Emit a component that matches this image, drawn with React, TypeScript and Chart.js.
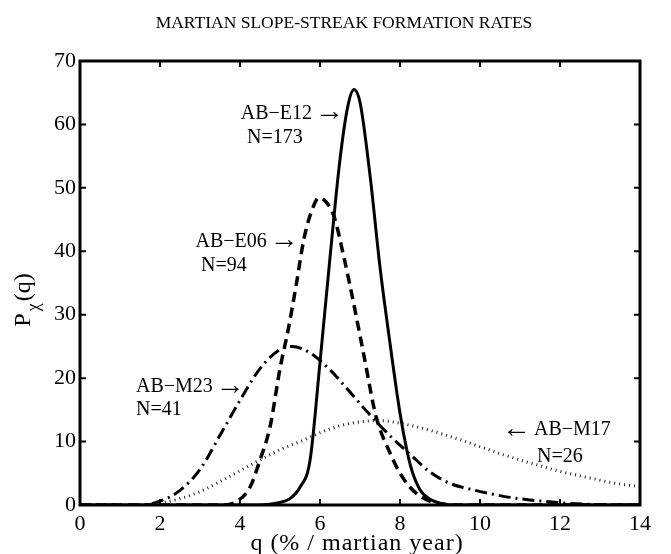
import React, { useEffect, useRef } from "react";
import { Chart, registerables } from "chart.js";

Chart.register(...registerables);

const TITLE = "MARTIAN SLOPE-STREAK FORMATION RATES";
const X_LABEL = "q (% / martian year)";
const X_TICKS = [0, 2, 4, 6, 8, 10, 12, 14];
const Y_TICKS = [0, 10, 20, 30, 40, 50, 60, 70];

// AB-E12 (solid)
const E12_Q = [0, 4.5, 5.0, 5.25, 5.5, 5.75, 6.0, 6.25, 6.5, 6.7, 6.85, 7.0, 7.25, 7.5, 7.75, 8.0, 8.25, 8.5, 8.75, 9.0, 9.4, 14];
const E12_P = [0, 0, 0.4, 1.0, 2.8, 7.0, 22.5, 39, 54.5, 63, 65.5, 63.5, 52, 37.5, 25.5, 14.5, 6.5, 2.4, 0.9, 0.3, 0, 0];

// AB-E06 (dashed)
const E06_Q = [0, 3.5, 3.9, 4.25, 4.5, 4.75, 5.0, 5.2, 5.4, 5.6, 5.8, 5.97, 6.15, 6.35, 6.6, 6.85, 7.1, 7.4, 7.75, 8.0, 8.25, 8.5, 8.75, 9.0, 9.5, 14];
const E06_P = [0, 0, 0.5, 2.8, 7.1, 12.3, 21.5, 27.5, 34.5, 42, 46.5, 48.4, 47.8, 45.5, 39, 31.5, 23.5, 14, 8.2, 5, 2.8, 1.4, 0.6, 0.2, 0, 0];

// AB-M23 (dash-dot)
const M23_Q = [0, 1.5, 2, 2.5, 3, 3.5, 4, 4.5, 5, 5.3, 5.75, 6.25, 6.75, 7.25, 7.75, 8.25, 8.75, 9.25, 9.75, 10.25, 10.75, 11.25, 11.75, 12.25, 13, 14];
const M23_P = [0, 0, 0.6, 2.3, 5.6, 11, 16.5, 21.5, 24.5, 25, 24, 21.3, 17.8, 14.2, 10.9, 8, 5.2, 3.4, 2.5, 1.8, 1.2, 0.8, 0.5, 0.25, 0.05, 0];

// AB-M17 (dotted)
const M17_Q = [0, 1.5, 2.0, 2.5, 3, 3.5, 4, 4.5, 5, 5.5, 6, 6.5, 7, 7.5, 8, 8.5, 9, 9.5, 10, 10.5, 11, 11.5, 12, 12.5, 13, 13.5, 14];
const M17_P = [0, 0, 0.3, 1.0, 2.1, 3.7, 5.4, 7.1, 8.7, 10.0, 11.4, 12.5, 13.1, 13.3, 12.9, 12.2, 11.3, 10.3, 9.2, 8.1, 7.1, 6.2, 5.3, 4.6, 3.9, 3.3, 2.9];

// Annotation texts, anchored in data coordinates
const ANNOTATIONS = [
  { text: "AB\u2212E12", arrow: "right", q: 6.6, p: 61.7, align: "right" },
  { text: "N=173", arrow: "", q: 4.175, p: 57.9, align: "left" },
  { text: "AB\u2212E06", arrow: "right", q: 5.47, p: 41.5, align: "right" },
  { text: "N=94", arrow: "", q: 3.025, p: 37.7, align: "left" },
  { text: "AB\u2212M23", arrow: "right", q: 1.4, p: 18.6, align: "left" },
  { text: "N=41", arrow: "", q: 1.4, p: 15.0, align: "left" },
  { text: "AB\u2212M17", arrow: "left", q: 10.55, p: 11.8, align: "left" },
  { text: "N=26", arrow: "", q: 11.425, p: 7.6, align: "left" },
];

const SERIF = '"Liberation Serif", "Times New Roman", serif';

const pts = (qs: number[], ps: number[]) => qs.map((q, i) => ({ x: q, y: ps[i] }));

function drawAnnotation(ctx: CanvasRenderingContext2D, l: any, x: number, y: number) {
  const textFont = `20px ${SERIF}`;
  const arrowFont = `29px ${SERIF}`;
  const gap = 3;
  ctx.font = textFont;
  const wt = ctx.measureText(l.text).width;
  let wa = 0;
  const glyph = l.arrow === "right" ? "\u2192" : l.arrow === "left" ? "\u2190" : "";
  if (glyph) {
    ctx.font = arrowFont;
    wa = ctx.measureText(glyph).width;
  }
  const total = wt + (glyph ? gap + wa : 0);
  let x0 = l.align === "right" ? x - total : x;
  ctx.textAlign = "left";
  if (l.arrow === "left") {
    ctx.font = arrowFont;
    ctx.fillText(glyph, x0, y - 1);
    x0 += wa + gap;
    ctx.font = textFont;
    ctx.fillText(l.text, x0, y);
  } else {
    ctx.font = textFont;
    ctx.fillText(l.text, x0, y);
    if (glyph) {
      x0 += wt + gap;
      ctx.font = arrowFont;
      ctx.fillText(glyph, x0, y - 1);
    }
  }
}

const framePlugin = {
  id: "frameAndText",
  afterDraw(chart: any) {
    const { ctx, chartArea: a, scales } = chart;
    const xs = scales.x;
    const ys = scales.y;
    ctx.save();
    ctx.strokeStyle = "#000";
    ctx.lineCap = "butt";
    const T = 6;
    ctx.lineWidth = 2;
    ctx.beginPath();
    for (const v of X_TICKS) {
      const px = xs.getPixelForValue(v);
      ctx.moveTo(px, a.bottom);
      ctx.lineTo(px, a.bottom - T);
      ctx.moveTo(px, a.top);
      ctx.lineTo(px, a.top + T);
    }
    for (const v of Y_TICKS) {
      const py = ys.getPixelForValue(v);
      ctx.moveTo(a.left, py);
      ctx.lineTo(a.left + T, py);
      ctx.moveTo(a.right, py);
      ctx.lineTo(a.right - T, py);
    }
    ctx.stroke();
    ctx.lineWidth = 3;
    ctx.strokeRect(a.left, a.top, a.right - a.left, a.bottom - a.top);

    ctx.fillStyle = "#000";
    ctx.textBaseline = "middle";
    for (const l of ANNOTATIONS) {
      drawAnnotation(ctx, l, xs.getPixelForValue(l.q), ys.getPixelForValue(l.p));
    }

    // title
    ctx.textAlign = "center";
    ctx.font = `17.5px ${SERIF}`;
    ctx.fillText(TITLE, (a.left + a.right) / 2 - 16, 23);

    // x label
    ctx.font = `24px ${SERIF}`;
    (ctx as any).letterSpacing = "1px";
    ctx.fillText(X_LABEL, (a.left + a.right) / 2 - 3, 544);
    (ctx as any).letterSpacing = "0px";

    // y label P_chi(q)
    ctx.save();
    ctx.translate(24, (a.top + a.bottom) / 2 + 17);
    ctx.rotate(-Math.PI / 2);
    ctx.textAlign = "left";
    ctx.font = `24px ${SERIF}`;
    const wP = ctx.measureText("P").width;
    ctx.font = `18px ${SERIF}`;
    const wC = ctx.measureText("\u03c7").width;
    ctx.font = `24px ${SERIF}`;
    const wQ = ctx.measureText("(q)").width;
    const total = wP + wC + wQ + 4;
    let x0 = -total / 2;
    ctx.fillText("P", x0, 0);
    x0 += wP + 2;
    ctx.font = `18px ${SERIF}`;
    ctx.fillText("\u03c7", x0, 10);
    x0 += wC + 2;
    ctx.font = `24px ${SERIF}`;
    ctx.fillText("(q)", x0, 0);
    ctx.restore();

    ctx.restore();
  },
};

export default function App() {
  const ref = useRef<HTMLCanvasElement | null>(null);
  useEffect(() => {
    document.body.style.margin = "0";
    const canvas = ref.current;
    if (!canvas) return;
    const chart = new Chart(canvas, {
      type: "line",
      data: {
        datasets: [
          {
            label: "AB-M17",
            data: pts(M17_Q, M17_P),
            borderColor: "#222",
            borderWidth: 3,
            borderDash: [1, 4],
            borderCapStyle: "butt",
            pointRadius: 0,
            cubicInterpolationMode: "monotone",
            tension: 0.4,
          },
          {
            label: "AB-M23",
            data: pts(M23_Q, M23_P),
            borderColor: "#000",
            borderWidth: 3,
            borderDash: [12, 5, 2, 5],
            borderCapStyle: "butt",
            pointRadius: 0,
            cubicInterpolationMode: "monotone",
            tension: 0.4,
          },
          {
            label: "AB-E06",
            data: pts(E06_Q, E06_P),
            borderColor: "#000",
            borderWidth: 3.5,
            borderDash: [10, 6],
            borderCapStyle: "butt",
            pointRadius: 0,
            cubicInterpolationMode: "monotone",
            tension: 0.4,
          },
          {
            label: "AB-E12",
            data: pts(E12_Q, E12_P),
            borderColor: "#000",
            borderWidth: 3,
            pointRadius: 0,
            cubicInterpolationMode: "monotone",
            tension: 0.4,
          },
        ],
      },
      options: {
        animation: false,
        responsive: true,
        maintainAspectRatio: false,
        layout: { padding: { top: 61, right: 31, left: 0, bottom: 0 } },
        plugins: {
          legend: { display: false },
          tooltip: { enabled: false },
          title: { display: false },
        },
        scales: {
          x: {
            type: "linear",
            min: 0,
            max: 14,
            afterFit: (s: any) => {
              s.height = 49;
            },
            afterBuildTicks: (s: any) => {
              s.ticks = X_TICKS.map((v) => ({ value: v }));
            },
            grid: { display: false, drawTicks: false },
            border: { display: false },
            ticks: {
              color: "#000",
              font: { family: SERIF, size: 22 },
              padding: 6,
              maxRotation: 0,
            },
          },
          y: {
            type: "linear",
            min: 0,
            max: 70,
            afterFit: (s: any) => {
              s.width = 80;
            },
            afterBuildTicks: (s: any) => {
              s.ticks = Y_TICKS.map((v) => ({ value: v }));
            },
            grid: { display: false, drawTicks: false },
            border: { display: false },
            ticks: {
              color: "#000",
              font: { family: SERIF, size: 22 },
              padding: 4,
            },
          },
        },
      },
      plugins: [framePlugin],
    });
    return () => chart.destroy();
  }, []);
  return (
    <div style={{ position: "relative", width: 671, height: 554 }}>
      <canvas ref={ref} />
    </div>
  );
}
